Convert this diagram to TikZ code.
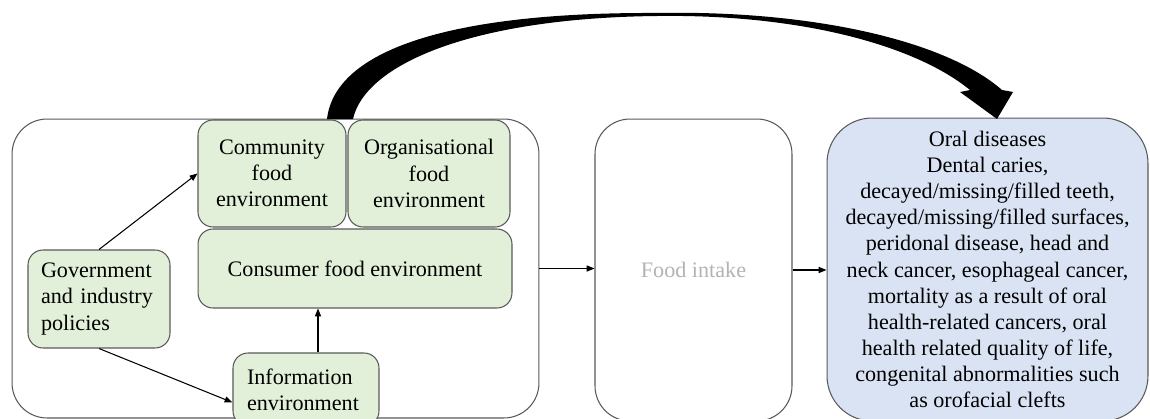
\documentclass[tikz,border=0pt]{standalone}
\usepackage{fontspec}
\setmainfont{Liberation Serif}
\usetikzlibrary{arrows.meta}
\definecolor{boxgreen}{HTML}{E2F0D9}
\definecolor{boxblue}{HTML}{DAE3F3}
\definecolor{edgegray}{HTML}{595959}
\definecolor{fadedtext}{HTML}{B3B3B3}
\begin{document}
\begin{tikzpicture}[x=0.02cm,y=-0.02cm,
	box/.style={draw=edgegray,line width=0.6pt,rounded corners=0.3cm,align=center,inner sep=0pt,font=\fontsize{12.6}{14.9}\selectfont},
	greenbox/.style={box,fill=boxgreen},
	link/.style={line width=0.6pt,-{Triangle[length=4.5pt,width=3.5pt]}}]
	\useasboundingbox (0,0) rectangle (1150,419);
	\clip (0,0) rectangle (1150,419);
	\node[box,minimum width=10.54cm,minimum height=5.98cm,rounded corners=0.7cm] (env) at (275.5,268.5) {};
	\node[greenbox,minimum width=2.96cm,minimum height=2.14cm] (comm) at (272,173.5) {Community\\food\\environment};
	\node[greenbox,minimum width=3.24cm,minimum height=2.14cm] (org) at (429,173.5) {Organisational\\food\\environment};
	\node[greenbox,minimum width=6.28cm,minimum height=1.58cm] (cons) at (355,268.5) {Consumer food environment};
	\node[greenbox,minimum height=1.96cm,text width=2.32cm,inner xsep=0.26cm,align=left] (gov) at (99,299) {Government\\and industry\\policies};
	\node[greenbox,minimum height=1.46cm,text width=2.36cm,inner xsep=0.28cm,align=left] (info) at (306,389.5) {Information\\environment};
	\node[box,minimum width=3.94cm,minimum height=6.04cm,rounded corners=0.7cm,text=fadedtext] (food) at (693.5,270) {Food intake};
	\node[box,fill=boxblue,minimum width=6.42cm,minimum height=6.06cm,rounded corners=0.9cm] (oral) at (987.5,269.5) {Oral diseases\\Dental caries,\\decayed/missing/filled teeth,\\decayed/missing/filled surfaces,\\peridonal disease, head and\\neck cancer, esophageal cancer,\\mortality as a result of oral\\health-related cancers, oral\\health related quality of life,\\congenital abnormalities such\\as orofacial clefts};
	\draw[link] (gov.north) -- (comm.west);
	\draw[link] (gov.south) -- (info.190);
	\draw[link] ([xshift=0.24cm]info.north) -- ([xshift=0.24cm]info.north |- cons.south);
	\draw[link] (env.east) -- (env.east -| food.west);
	\draw[link] (food.east) -- (food.east -| oral.west);
	\fill (327,119) .. controls (335,50) and (450,12) .. (657,13)
	.. controls (810,10) and (945,40) .. (1002,90)
	-- (1013,92) -- (997,119) -- (960,92) -- (970,90)
	.. controls (915,45) and (800,14) .. (657,16)
	.. controls (470,18) and (365,65) .. (353,119) -- cycle;
\end{tikzpicture}
\end{document}
